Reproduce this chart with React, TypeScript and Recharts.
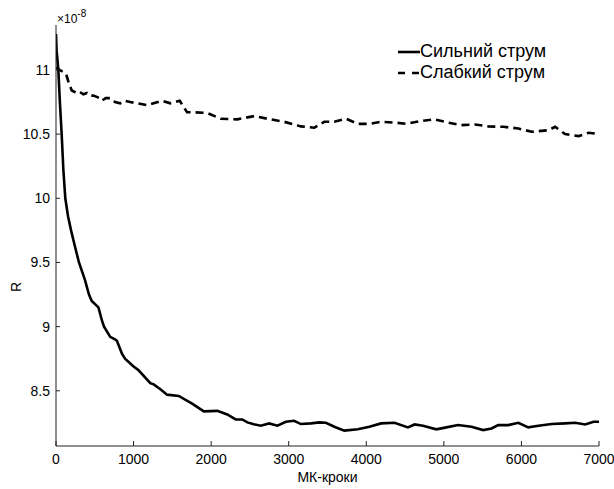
import React from 'react';
import { LineChart, Line, XAxis, YAxis, Legend, Label } from 'recharts';

const strongSteps = [0, 8, 30, 50, 73, 95, 120, 155, 194, 246, 296, 375, 425, 461, 547, 591, 619, 699, 760, 785, 850, 890, 1000, 1065, 1216, 1259, 1350, 1432, 1582, 1755, 1906, 2079, 2208, 2316, 2402, 2467, 2550, 2639, 2747, 2855, 2963, 3070, 3157, 3286, 3393, 3480, 3588, 3717, 3890, 4040, 4191, 4364, 4537, 4623, 4731, 4903, 5032, 5183, 5356, 5507, 5614, 5701, 5830, 5960, 6089, 6218, 6391, 6563, 6692, 6822, 6930, 7000];
const strongValues = [11.28, 11.15, 11.0, 10.75, 10.5, 10.22, 10.0, 9.86, 9.75, 9.62, 9.5, 9.36, 9.25, 9.2, 9.15, 9.05, 9.0, 8.92, 8.9, 8.89, 8.79, 8.75, 8.69, 8.66, 8.56, 8.55, 8.51, 8.47, 8.46, 8.4, 8.34, 8.344, 8.316, 8.277, 8.277, 8.254, 8.24, 8.228, 8.246, 8.228, 8.259, 8.267, 8.241, 8.246, 8.254, 8.251, 8.22, 8.19, 8.2, 8.22, 8.246, 8.251, 8.215, 8.238, 8.228, 8.2, 8.215, 8.233, 8.22, 8.194, 8.207, 8.233, 8.233, 8.251, 8.215, 8.228, 8.241, 8.246, 8.251, 8.238, 8.259, 8.259];

const weakSteps = [0, 17, 74, 110, 129, 159, 203, 235, 268, 300, 353, 400, 440, 480, 526, 560, 591, 640, 698, 760, 828, 890, 957, 1173, 1367, 1475, 1595, 1690, 1776, 1949, 2122, 2338, 2553, 2747, 2941, 3157, 3330, 3459, 3588, 3739, 3890, 4040, 4191, 4364, 4515, 4687, 4881, 5054, 5226, 5399, 5572, 5766, 5960, 6132, 6348, 6435, 6563, 6736, 6865, 7000];
const weakValues = [11.02, 11.01, 10.99, 10.98, 10.97, 10.91, 10.84, 10.83, 10.82, 10.83, 10.81, 10.82, 10.8, 10.8, 10.79, 10.78, 10.76, 10.78, 10.78, 10.75, 10.74, 10.76, 10.75, 10.725, 10.76, 10.74, 10.76, 10.67, 10.67, 10.665, 10.62, 10.615, 10.64, 10.617, 10.596, 10.56, 10.55, 10.596, 10.596, 10.62, 10.58, 10.58, 10.596, 10.59, 10.58, 10.6, 10.615, 10.59, 10.57, 10.575, 10.56, 10.557, 10.544, 10.518, 10.53, 10.557, 10.5, 10.484, 10.51, 10.5];

const xTicks = [0, 1000, 2000, 3000, 4000, 5000, 6000, 7000];
const yTicks = [8.5, 9, 9.5, 10, 10.5, 11];
const seriesNames = ['Сильний струм', 'Слабкий струм'];
const xTitle = 'МК-кроки';
const yTitle = 'R';
const scaleBase = '×10';
const scaleExp = '-8';

const strongData = strongSteps.map((s, i) => ({ step: s, r: strongValues[i] }));
const weakData = weakSteps.map((s, i) => ({ step: s, r: weakValues[i] }));

const FONT = '"Liberation Sans", Arial, sans-serif';

const renderLegend = () => (
  <div style={{ fontFamily: FONT, fontSize: 18, color: '#000' }}>
    {seriesNames.map((name, i) => (
      <div key={name} style={{ display: 'flex', alignItems: 'center', height: 21, lineHeight: '21px', whiteSpace: 'nowrap' }}>
        <svg width={22} height={21} style={{ display: 'block' }}>
          <line x1={0} y1={11} x2={22} y2={11} stroke="#000" strokeWidth={2.6} strokeDasharray={i === 1 ? '7 7' : undefined} />
        </svg>
        <span>{name}</span>
      </div>
    ))}
  </div>
);

export default function App() {
  return (
    <div style={{ position: 'absolute', left: 0, top: 0, width: 614, height: 489, background: '#fff' }}>
      <LineChart width={614} height={489} margin={{ top: 25, right: 15, bottom: 0, left: 0 }}>
        <XAxis
          type="number"
          dataKey="step"
          domain={[0, 7000]}
          ticks={xTicks}
          interval={0}
          height={43}
          tickSize={-5}
          tickMargin={13}
          axisLine={{ stroke: '#222', strokeWidth: 1 }}
          tickLine={{ stroke: '#222', strokeWidth: 1 }}
          tick={{ fill: '#000', fontSize: 14, fontFamily: FONT }}
          allowDataOverflow
        >
          <Label
            content={(props: any) => {
              const vb = props.viewBox || { x: 56, width: 543 };
              return (
                <text x={vb.x + vb.width / 2} y={482} textAnchor="middle" fontSize={14} fontFamily={FONT} fill="#000">
                  {xTitle}
                </text>
              );
            }}
          />
        </XAxis>
        <YAxis
          type="number"
          domain={[8.07, 11.35]}
          ticks={yTicks}
          interval={0}
          width={56}
          tickSize={-4}
          tickMargin={10}
          axisLine={{ stroke: '#222', strokeWidth: 1 }}
          tickLine={{ stroke: '#222', strokeWidth: 1 }}
          tick={{ fill: '#000', fontSize: 14, fontFamily: FONT }}
          allowDataOverflow
        >
          <Label
            content={() => (
              <text x={16} y={287} transform="rotate(-90 16 287)" textAnchor="middle" dominantBaseline="central" fontSize={14} fontFamily={FONT} fill="#000">
                {yTitle}
              </text>
            )}
          />
          <Label
            content={() => (
              <text x={57} y={23} fontSize={12} fontFamily={FONT} fill="#000">
                {scaleBase}
                <tspan dy={-6} fontSize={10}>{scaleExp}</tspan>
              </text>
            )}
          />
        </YAxis>
        <Line
          data={strongData}
          dataKey="r"
          name={seriesNames[0]}
          type="linear"
          stroke="#000"
          strokeWidth={2.6}
          dot={false}
          activeDot={false}
          isAnimationActive={false}
        />
        <Line
          data={weakData}
          dataKey="r"
          name={seriesNames[1]}
          type="linear"
          stroke="#000"
          strokeWidth={2.6}
          strokeDasharray="8 5"
          dot={false}
          activeDot={false}
          isAnimationActive={false}
        />
        <Legend
          layout="vertical"
          align="center"
          verticalAlign="middle"
          wrapperStyle={{ left: 398, top: 41, width: 200 }}
          content={renderLegend}
        />
      </LineChart>
    </div>
  );
}
